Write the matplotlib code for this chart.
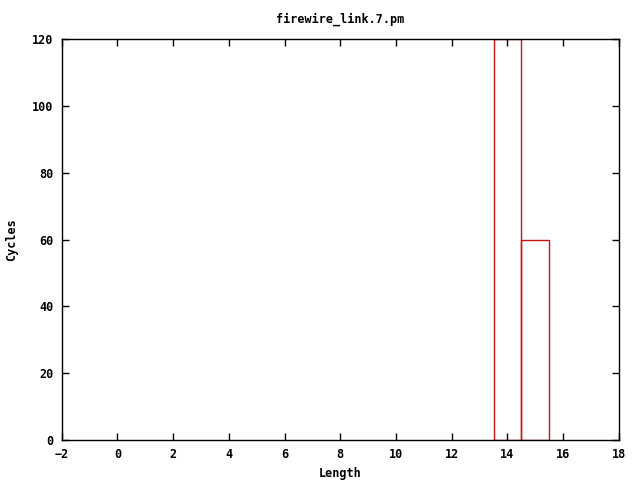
import matplotlib
matplotlib.use("Agg")
from matplotlib import pyplot as plt

lengths = [14, 15]
cycles = [120, 60]
x_ticks = [-2, 0, 2, 4, 6, 8, 10, 12, 14, 16, 18]
y_ticks = [0, 20, 40, 60, 80, 100, 120]

plt.rcParams['font.family'] = 'DejaVu Sans Mono'
plt.rcParams['font.weight'] = 'bold'
plt.rcParams['font.size'] = 8.5

fig = plt.figure(figsize=(6.4, 4.8), dpi=100)
ax = fig.add_axes([0.0964, 0.0833, 0.8706, 0.8354])

ax.bar(lengths, cycles, width=1.0, fill=False, edgecolor='#cc1111', linewidth=1.0)

ax.set_xlim(-2, 18)
ax.set_ylim(0, 120)
ax.set_xticks(x_ticks)
ax.set_yticks(y_ticks)
ax.tick_params(direction='in', top=True, right=True, length=5, width=1, pad=6)
for s in ax.spines.values():
    s.set_linewidth(1.0)

ax.set_title("firewire_link.7.pm", fontsize=8.5, fontweight='bold', pad=12)
ax.set_xlabel("Length", fontweight='bold', labelpad=4)
ax.set_ylabel("Cycles", fontweight='bold', labelpad=10)

fig.savefig("out.png", dpi=100)
